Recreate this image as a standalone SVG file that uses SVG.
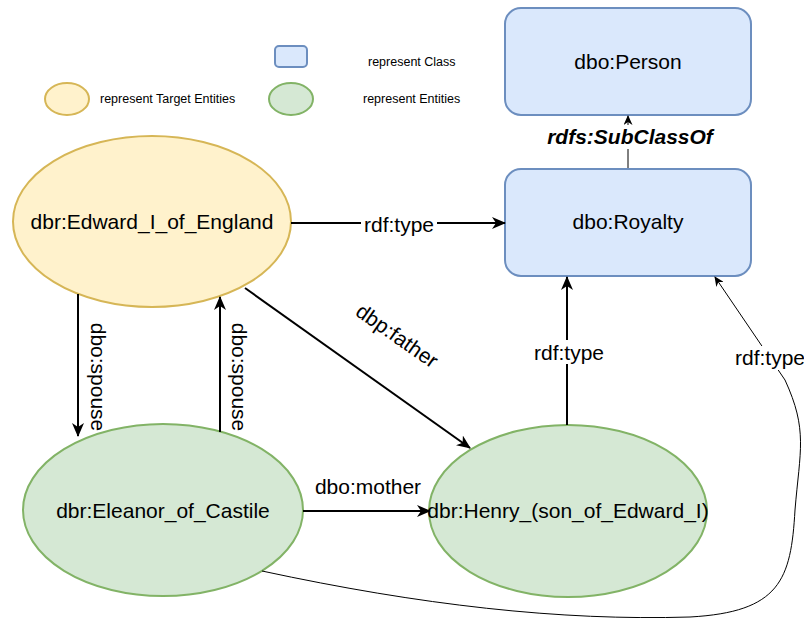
<svg xmlns="http://www.w3.org/2000/svg" width="804" height="618" viewBox="0 0 804 618">
  <defs>
    <marker id="arrow" viewBox="0 0 14 12" refX="13" refY="6" markerWidth="14" markerHeight="12" markerUnits="userSpaceOnUse" orient="auto">
      <path d="M0,0 L14,6 L0,12 L4,6 z" fill="#000"/>
    </marker>
    <marker id="arrow-sm" viewBox="0 0 10 9" refX="9" refY="4.5" markerWidth="10" markerHeight="9" markerUnits="userSpaceOnUse" orient="auto">
      <path d="M0,0 L10,4.5 L0,9 L3,4.5 z" fill="#000"/>
    </marker>
    <style>
      text { font-family: "Liberation Sans", Arial, Helvetica, sans-serif; fill: #000; }
      .node { font-size: 21px; text-anchor: middle; }
      .lbl { font-size: 21px; text-anchor: middle; }
      .legend { font-size: 12.5px; }
      .target { fill: #fff2cc; stroke: #d6b656; stroke-width: 2; }
      .entity { fill: #d5e8d4; stroke: #82b366; stroke-width: 2; }
      .class { fill: #dae8fc; stroke: #6c8ebf; stroke-width: 2; }
      .edge { fill: none; stroke: #000; stroke-width: 2; marker-end: url(#arrow); }
      .edge-thin { fill: none; stroke: #000; stroke-width: 1; marker-end: url(#arrow-sm); }
      .bg { fill: #fff; }
    </style>
  </defs>

  <!-- legend -->
  <g id="legend">
    <rect class="class" x="275" y="46" width="32" height="21" rx="4" stroke-width="1.5"/>
    <text class="legend" x="368" y="66">represent Class</text>
    <ellipse class="target" cx="67" cy="99" rx="22" ry="16" stroke-width="1.5"/>
    <text class="legend" x="100" y="103">represent Target Entities</text>
    <ellipse class="entity" cx="291" cy="99" rx="22" ry="16" stroke-width="1.5"/>
    <text class="legend" x="363" y="103">represent Entities</text>
  </g>

  <!-- nodes -->
  <g id="node-person">
    <rect class="class" x="505" y="8" width="246" height="107" rx="16"/>
    <text class="node" x="628" y="69">dbo:Person</text>
  </g>
  <g id="node-royalty">
    <rect class="class" x="505" y="169" width="246" height="107" rx="16"/>
    <text class="node" x="628" y="229">dbo:Royalty</text>
  </g>
  <g id="node-edward">
    <ellipse class="target" cx="152" cy="221.5" rx="139" ry="85.5"/>
    <text class="node" x="152" y="229">dbr:Edward_I_of_England</text>
  </g>
  <g id="node-eleanor">
    <ellipse class="entity" cx="163" cy="510" rx="140" ry="86"/>
    <text class="node" x="163" y="518">dbr:Eleanor_of_Castile</text>
  </g>
  <g id="node-henry">
    <ellipse class="entity" cx="568" cy="511" rx="139" ry="86"/>
    <text class="node" x="568" y="518">dbr:Henry_(son_of_Edward_I)</text>
  </g>

  <!-- connectors -->
  <g id="connectors">
    <!-- Edward -> Royalty -->
    <line class="edge" x1="291" y1="223" x2="505" y2="223"/>
    <rect class="bg" x="361" y="212" width="76" height="24"/>
    <text class="lbl" x="399" y="232">rdf:type</text>

    <!-- spouse Edward -> Eleanor -->
    <line class="edge" x1="78" y1="294" x2="78" y2="436"/>
    <text class="lbl" transform="translate(91,377) rotate(90)">dbo:spouse</text>

    <!-- spouse Eleanor -> Edward -->
    <line class="edge" x1="220" y1="432" x2="220" y2="297"/>
    <text class="lbl" transform="translate(232,377) rotate(90)">dbo:spouse</text>

    <!-- father Edward -> Henry -->
    <line class="edge" x1="245" y1="288" x2="470" y2="448"/>
    <text class="lbl" transform="translate(397,336) rotate(35)" dy="7">dbp:father</text>

    <!-- mother Eleanor -> Henry -->
    <line class="edge" x1="303" y1="511" x2="430" y2="511"/>
    <text class="lbl" x="368" y="494">dbo:mother</text>

    <!-- Henry -> Royalty -->
    <line class="edge" x1="567" y1="425" x2="567" y2="277"/>
    <rect class="bg" x="530" y="340" width="76" height="24"/>
    <text class="lbl" x="569" y="360">rdf:type</text>

    <!-- Royalty -> Person -->
    <line class="edge-thin" x1="628" y1="168" x2="628" y2="116"/>
    <rect class="bg" x="538" y="125" width="182" height="24"/>
    <text class="lbl" x="630" y="144" font-weight="bold" font-style="italic" font-size="22">rdfs:SubClassOf</text>

    <!-- Eleanor -> Royalty (curved) -->
    <path class="edge-thin" d="M262,571 C420,605 560,621 690,617 C780,612 791,580 795,510 C800,450 808,430 785,380 L715,277"/>
    <rect class="bg" x="732" y="346" width="76" height="24"/>
    <text class="lbl" x="770" y="365">rdf:type</text>
  </g>
</svg>
